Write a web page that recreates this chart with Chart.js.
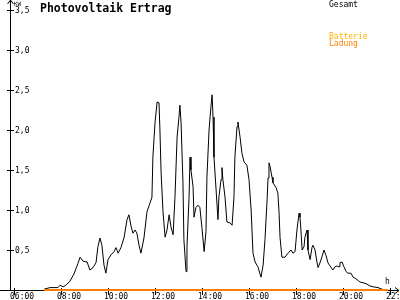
<!DOCTYPE html>
<html>
<head>
<meta charset="utf-8">
<script src="https://cdn.jsdelivr.net/npm/chart.js@4.4.1/dist/chart.umd.min.js"></script>
<style>
  html, body { margin: 0; padding: 0; background: #fff; }
  #wrap { width: 400px; height: 300px; }
</style>
</head>
<body>
<div id="wrap"><canvas id="pvChart" width="400" height="300"></canvas></div>
<script>
// time of day in hours, power in kW
var gesamtTimes = [7.28, 7.53, 7.87, 7.96, 8.09, 8.21, 8.38, 8.55, 8.72, 8.81, 8.94, 9.11, 9.23, 9.36, 9.49, 9.57,
  9.66, 9.74, 9.83, 9.91, 10.00, 10.13, 10.26, 10.34, 10.43, 10.55, 10.68, 10.81, 10.89, 10.98, 11.06, 11.15,
  11.23, 11.32, 11.40, 11.53, 11.66, 11.79, 11.87, 11.91, 12.00, 12.09, 12.17, 12.21, 12.26, 12.34, 12.43,
  12.51, 12.60, 12.68, 12.77, 12.85, 12.94, 13.02, 13.06, 13.11, 13.19, 13.23, 13.32, 13.36, 13.45, 13.49,
  13.53, 13.62, 13.66, 13.74, 13.83, 13.91, 14.00, 14.09, 14.17, 14.21, 14.30, 14.38, 14.43, 14.47, 14.51,
  14.60, 14.68, 14.72, 14.81, 14.85, 14.89, 14.98, 15.06, 15.19, 15.28, 15.36, 15.40, 15.49, 15.53, 15.62,
  15.70, 15.79, 15.91, 16.00, 16.09, 16.17, 16.26, 16.38, 16.51, 16.60, 16.68, 16.77, 16.81, 16.85, 16.89,
  16.98, 17.02, 17.15, 17.23, 17.28, 17.32, 17.40, 17.53, 17.66, 17.79, 17.87, 17.96, 18.04, 18.13, 18.17,
  18.21, 18.26, 18.34, 18.38, 18.47, 18.51, 18.60, 18.68, 18.72, 18.81, 18.89, 18.94, 19.02, 19.11, 19.19,
  19.28, 19.36, 19.45, 19.57, 19.66, 19.74, 19.83, 19.87, 19.96, 20.04, 20.13, 20.21, 20.34, 20.43, 20.55,
  20.72, 20.85, 20.98, 21.15, 21.28, 21.49, 21.66, 21.79];
var gesamtKW = [0.01, 0.03, 0.03, 0.06, 0.04, 0.06, 0.11, 0.20, 0.33, 0.41, 0.36, 0.35, 0.25, 0.28, 0.34, 0.54,
  0.65, 0.56, 0.31, 0.21, 0.38, 0.44, 0.48, 0.53, 0.46, 0.53, 0.65, 0.88, 0.94, 0.80, 0.71, 0.75,
  0.71, 0.56, 0.46, 0.65, 0.98, 1.09, 1.16, 1.66, 2.09, 2.35, 2.34, 2.00, 1.46, 0.98, 0.66,
  0.75, 0.94, 0.79, 0.69, 1.16, 1.91, 2.16, 2.31, 2.09, 1.34, 0.63, 0.23, 0.54, 1.16, 1.66,
  1.50, 1.29, 0.91, 1.03, 1.06, 1.03, 0.77, 0.48, 0.73, 1.41, 2.00, 2.29, 2.44, 2.16, 1.66,
  1.25, 0.88, 1.16, 1.38, 1.53, 1.38, 1.16, 0.85, 0.84, 0.81, 1.16, 1.66, 2.04, 2.10, 1.91,
  1.71, 1.60, 1.56, 1.38, 1.00, 0.46, 0.35, 0.29, 0.16, 0.31, 0.63, 1.13, 1.40, 1.59, 1.55,
  1.41, 1.34, 1.28, 1.21, 0.96, 0.66, 0.41, 0.41, 0.46, 0.50, 0.46, 0.48, 0.75, 0.96, 0.91,
  0.75, 0.50, 0.54, 0.66, 0.75, 0.50, 0.38, 0.53, 0.56, 0.50, 0.35, 0.28, 0.34, 0.42, 0.50,
  0.43, 0.34, 0.30, 0.25, 0.29, 0.30, 0.29, 0.34, 0.35, 0.29, 0.23, 0.21, 0.21, 0.16, 0.14,
  0.10, 0.09, 0.08, 0.05, 0.04, 0.03, 0.01, 0.00];

var ladungTimes = [7.28, 21.91];
var ladungKW = [0, 0];

var yTickValues = [0.5, 1.0, 1.5, 2.0, 2.5, 3.0, 3.5];
var yTickLabels = ["0,5", "1,0", "1,5", "2,0", "2,5", "3,0", "3,5"];
var xTickValues = [6, 8, 10, 12, 14, 16, 18, 20, 22];
var xTickLabels = ["06:00", "08:00", "10:00", "12:00", "14:00", "16:00", "18:00", "20:00", "22:00"];

var MONO = '"DejaVu Sans Mono", monospace';

function toPoints(xs, ys) {
  var pts = [];
  for (var i = 0; i < xs.length; i++) pts.push({ x: xs[i], y: ys[i] });
  return pts;
}

// axes, ticks and texts are drawn by hand to get the old-style look
var axesPlugin = {
  id: "oldAxes",
  beforeDatasetsDraw: function (chart) {
    var c = chart.ctx;
    var xs = chart.scales.x, ys = chart.scales.y;
    var axX = chart.chartArea.left - 4;
    var axY = ys.getPixelForValue(0);
    c.save();
    c.strokeStyle = "#000";
    c.lineWidth = 1;
    c.beginPath();
    // y axis with arrow
    c.moveTo(axX + 0.5, axY);
    c.lineTo(axX + 0.5, 0);
    c.moveTo(axX + 0.5, 0);
    c.lineTo(axX - 2.5, 4);
    c.moveTo(axX + 0.5, 0);
    c.lineTo(axX + 3.5, 4);
    // x axis with arrow
    c.moveTo(0, axY + 0.5);
    c.lineTo(399, axY + 0.5);
    c.moveTo(399, axY + 0.5);
    c.lineTo(395, axY - 2.5);
    c.moveTo(399, axY + 0.5);
    c.lineTo(395, axY + 3.5);
    c.stroke();

    c.beginPath();
    yTickValues.forEach(function (v) {
      var py = Math.round(ys.getPixelForValue(v)) + 0.5;
      c.moveTo(axX - 3, py);
      c.lineTo(axX + 4, py);
    });
    xTickValues.forEach(function (v) {
      var px = Math.round(xs.getPixelForValue(v)) + 0.5;
      c.moveTo(px, axY - 2);
      c.lineTo(px, axY + 5);
    });
    c.stroke();

    c.fillStyle = "#000";
    c.font = "8px " + MONO;
    c.textBaseline = "middle";
    c.textAlign = "left";
    yTickValues.forEach(function (v, i) {
      c.fillText(yTickLabels[i], axX + 5, ys.getPixelForValue(v) + 1);
    });
    c.textBaseline = "top";
    xTickValues.forEach(function (v, i) {
      c.fillText(xTickLabels[i], xs.getPixelForValue(v) - 4, axY + 3);
    });
    c.textBaseline = "alphabetic";
    c.fillText("h", 385, axY - 6);
    c.font = "6px " + MONO;
    c.fillText("KW", axX + 4, 6);
    c.restore();
  },
  afterDraw: function (chart) {
    var c = chart.ctx;
    c.save();
    c.textBaseline = "alphabetic";
    c.textAlign = "left";
    c.fillStyle = "#000";
    c.font = "bold 11.5px " + MONO;
    c.fillText("Photovoltaik Ertrag", 40, 12);
    c.font = "8px " + MONO;
    c.fillText("Gesamt", 329, 7);
    c.fillStyle = "#ffb000";
    c.fillText("Batterie", 329, 39);
    c.fillStyle = "#ff8000";
    c.fillText("Ladung", 329, 46);
    c.restore();
  }
};

var ctx = document.getElementById("pvChart").getContext("2d");
var pvChart = new Chart(ctx, {
  type: "line",
  data: {
    datasets: [
      {
        label: "Gesamt",
        data: toPoints(gesamtTimes, gesamtKW),
        borderColor: "#000000",
        borderWidth: 1,
        pointRadius: 0,
        tension: 0,
        fill: false,
        clip: 6,
        order: 2
      },
      {
        label: "Ladung",
        data: toPoints(ladungTimes, ladungKW),
        borderColor: "#ff8000",
        borderWidth: 2,
        pointRadius: 0,
        tension: 0,
        fill: false,
        clip: 6,
        order: 1
      }
    ]
  },
  options: {
    responsive: false,
    animation: false,
    layout: { padding: { left: 14, right: 10, top: 10, bottom: 10 } },
    plugins: { legend: { display: false }, tooltip: { enabled: false } },
    scales: {
      x: { type: "linear", min: 6, max: 22, display: false },
      y: { min: 0, max: 3.5, display: false }
    }
  },
  plugins: [axesPlugin]
});
</script>
</body>
</html>
